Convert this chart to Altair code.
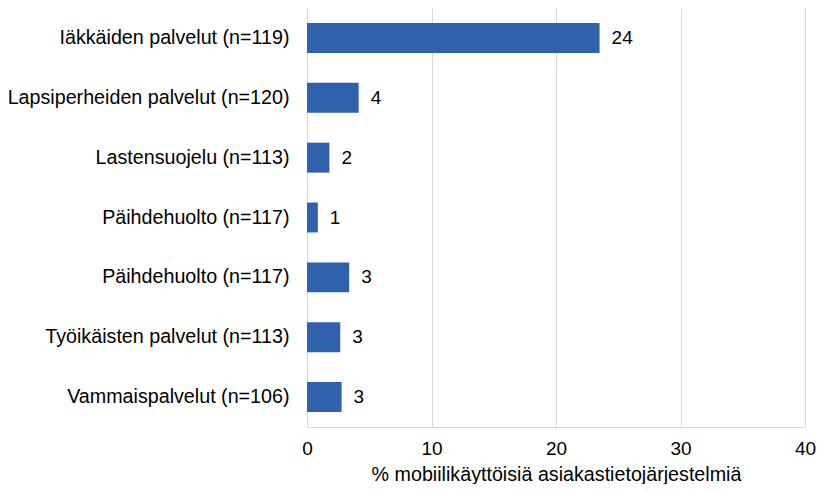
import json
import altair as alt
import pandas as pd

categories = [
    "Iäkkäiden palvelut (n=119)",
    "Lapsiperheiden palvelut (n=120)",
    "Lastensuojelu (n=113)",
    "Päihdehuolto (n=117)",
    "Päihdehuolto (n=117)",
    "Työikäisten palvelut (n=113)",
    "Vammaispalvelut (n=106)",
]
values = [23.5, 4.15, 1.8, 0.87, 3.39, 2.67, 2.78]
value_labels = ["24", "4", "2", "1", "3", "3", "3"]
x_ticks = [0, 10, 20, 30, 40]

df = pd.DataFrame({
    "row": [str(i) for i in range(len(categories))],
    "category": categories,
    "value": values,
    "label": value_labels,
})

FONT = "Liberation Sans"
GRID = "#d9d9d9"
BAR = "#2f61ad"
order = [str(i) for i in range(len(categories))]

label_expr = json.dumps(categories) + "[toNumber(datum.value)]"

y_enc = alt.Y(
    "row:N",
    sort=order,
    scale=alt.Scale(paddingInner=0.5, paddingOuter=0.25),
    axis=alt.Axis(
        title=None, ticks=False, domain=True, domainColor=GRID,
        labelExpr=label_expr, labelFontSize=19.7, labelFont=FONT,
        labelColor="#000000", labelPadding=18, labelLimit=400, grid=False,
    ),
)
x_enc = alt.X(
    "value:Q",
    scale=alt.Scale(domain=[0, 40], nice=False),
    axis=alt.Axis(
        title="% mobiilikäyttöisiä asiakastietojärjestelmiä",
        values=x_ticks, ticks=False, domain=True, domainColor=GRID,
        grid=True, gridColor=GRID, labelFontSize=19, labelFont=FONT,
        labelColor="#000000", labelPadding=12, labelFlush=False,
        titleFontSize=19.7, titleFont=FONT, titleFontWeight="normal",
        titleColor="#000000", titlePadding=6,
    ),
)

bars = alt.Chart(df).mark_bar(color=BAR).encode(y=y_enc, x=x_enc)
text = alt.Chart(df).mark_text(
    align="left", baseline="middle", dx=12, fontSize=19, font=FONT, color="#000000"
).encode(y=alt.Y("row:N", sort=order), x="value:Q", text="label:N")

chart = (bars + text).properties(
    width=498, height=419,
    autosize=alt.AutoSizeParams(type="none"),
    padding={"left": 299, "top": 0, "right": 12, "bottom": 57},
).configure_view(stroke=None)

chart.save("out.html", embed_options={"renderer": "svg", "actions": False})
